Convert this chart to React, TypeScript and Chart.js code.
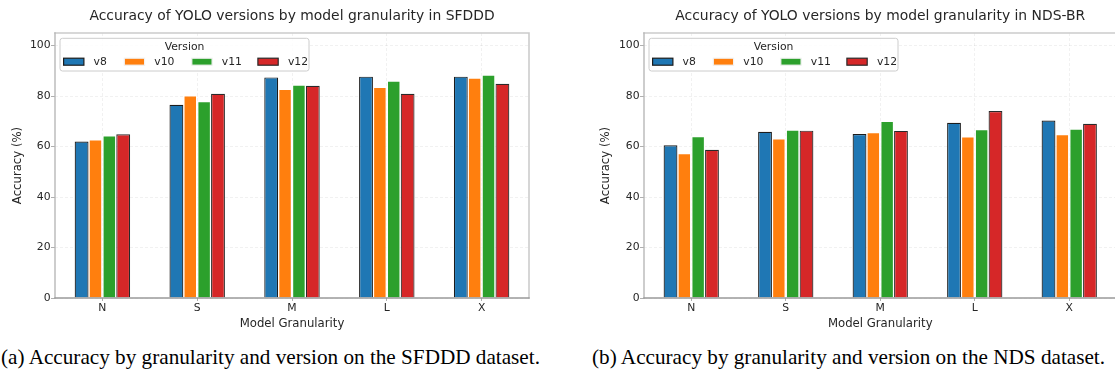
import React, { useEffect, useRef } from 'react';
import { Chart, registerables } from 'chart.js';
Chart.register(...registerables);

const categories = ['N', 'S', 'M', 'L', 'X'];
const versions = ['v8', 'v10', 'v11', 'v12'];
const versionColors = ['#1f77b4', '#ff7f0e', '#2ca02c', '#d62728'];
const versionEdges = ['#1c1c1c', '#ffffff', '#ffffff', '#2a2a2a'];

const sfdddV8 = [62.0, 76.6, 87.4, 87.7, 87.7];
const sfdddV10 = [62.9, 80.3, 82.9, 83.7, 87.3];
const sfdddV11 = [64.5, 78.0, 84.6, 86.2, 88.5];
const sfdddV12 = [64.9, 80.9, 84.1, 80.9, 84.9];

const ndsV8 = [60.5, 65.9, 65.0, 69.4, 70.3];
const ndsV10 = [57.4, 63.3, 65.8, 64.1, 65.0];
const ndsV11 = [64.2, 66.7, 70.2, 66.9, 67.1];
const ndsV12 = [58.7, 66.3, 66.2, 74.1, 69.0];

const yTickValues = [0, 20, 40, 60, 80, 100];
const yMax = 105;

const titleA = 'Accuracy of YOLO versions by model granularity in SFDDD';
const titleB = 'Accuracy of YOLO versions by model granularity in NDS-BR';
const xTitle = 'Model Granularity';
const yTitle = 'Accuracy (%)';
const legendTitle = 'Version';
const captionA = '(a) Accuracy by granularity and version on the SFDDD dataset.';
const captionB = '(b) Accuracy by granularity and version on the NDS dataset.';

const FONT = '"DejaVu Sans", sans-serif';
const TEXT = '#262626';

const legendSwatchOffsets = [3.6, 64.3, 131.8, 197.9];
const legendBoxWidth = 249;

const decorPlugin = {
  id: 'decor',
  afterDatasetsDraw(chart: any) {
    const { ctx, chartArea: a } = chart;
    ctx.save();
    ctx.lineCap = 'square';
    ctx.strokeStyle = '#cccccc';
    ctx.lineWidth = 1.6;
    ctx.beginPath();
    ctx.moveTo(a.left, a.top);
    ctx.lineTo(a.right, a.top);
    ctx.lineTo(a.right, a.bottom);
    ctx.stroke();
    ctx.strokeStyle = '#b8b8b8';
    ctx.lineWidth = 1.4;
    ctx.beginPath();
    ctx.moveTo(a.left, a.top);
    ctx.lineTo(a.left, a.bottom);
    ctx.stroke();
    ctx.strokeStyle = '#9a9a9a';
    ctx.beginPath();
    ctx.moveTo(a.left, a.bottom);
    ctx.lineTo(a.right, a.bottom);
    ctx.stroke();
    ctx.restore();
  },
  afterDraw(chart: any) {
    const { ctx, chartArea: a } = chart;
    const opts = chart.options.plugins.decor;
    ctx.save();
    // title
    ctx.font = `13.9px ${FONT}`;
    ctx.fillStyle = TEXT;
    ctx.textAlign = 'center';
    ctx.textBaseline = 'middle';
    ctx.fillText(opts.title, (a.left + a.right) / 2, 16.7);

    // legend
    ctx.font = `10.8px ${FONT}`;
    const bx = a.left + 5;
    const by = a.top + 5.3;
    const sw = 20.3, sh = 7, textPad = 9.7;
    const bw = legendBoxWidth;
    const bh = 32.7;
    ctx.beginPath();
    (ctx as any).roundRect(bx, by, bw, bh, 2.5);
    ctx.fillStyle = 'rgba(255,255,255,0.85)';
    ctx.fill();
    ctx.strokeStyle = '#cccccc';
    ctx.lineWidth = 1;
    ctx.stroke();
    ctx.fillStyle = TEXT;
    ctx.textAlign = 'center';
    ctx.textBaseline = 'middle';
    ctx.fillText(legendTitle, bx + 124.5, by + 8.6);
    const cy = by + 23.4;
    chart.data.datasets.forEach((ds: any, i: number) => {
      const x = bx + legendSwatchOffsets[i];
      ctx.fillStyle = ds.backgroundColor;
      ctx.fillRect(x, cy - sh / 2, sw, sh);
      ctx.strokeStyle = ds.borderColor === '#ffffff' ? '#f2f2f2' : ds.borderColor;
      ctx.lineWidth = 1.2;
      ctx.strokeRect(x, cy - sh / 2, sw, sh);
      ctx.fillStyle = TEXT;
      ctx.textAlign = 'left';
      ctx.fillText(ds.label, x + sw + textPad, cy);
    });
    ctx.restore();
  },
};

function makeConfig(title: string, series: number[][], padLeft: number, yWidth: number, padRight: number): any {
  return {
    type: 'bar',
    data: {
      labels: categories,
      datasets: versions.map((v, i) => ({
        label: v,
        data: series[i],
        backgroundColor: versionColors[i],
        borderColor: versionEdges[i],
        borderWidth: 1.2,
        barPercentage: 1.0,
        categoryPercentage: 0.585,
      })),
    },
    plugins: [decorPlugin],
    options: {
      responsive: false,
      maintainAspectRatio: false,
      devicePixelRatio: 1,
      animation: false,
      layout: { padding: { left: padLeft, right: padRight, top: 33, bottom: 0 } },
      plugins: {
        legend: { display: false },
        title: { display: false },
        tooltip: { enabled: false },
        decor: { title },
      },
      scales: {
        x: {
          offset: true,
          grid: {
            offset: false,
            color: 'rgba(0,0,0,0.07)',
            tickColor: '#9a9a9a',
            tickLength: 3,
            lineWidth: 0.8,
          },
          border: { display: false, dash: [3, 2] },
          ticks: { color: TEXT, font: { family: FONT, size: 10.8 }, padding: 0.5, maxRotation: 0 },
          title: {
            display: true,
            text: xTitle,
            color: TEXT,
            font: { family: FONT, size: 11.7, lineHeight: 1.2 },
            padding: { top: 0, bottom: 9 },
          },
          afterFit: (s: any) => { s.height = 42; },
        },
        y: {
          min: 0,
          max: yMax,
          grid: {
            color: 'rgba(0,0,0,0.07)',
            tickColor: '#9a9a9a',
            tickLength: 4,
            lineWidth: 0.8,
          },
          border: { display: false, dash: [3, 2] },
          ticks: { color: TEXT, font: { family: FONT, size: 10.8 }, padding: 0.5, stepSize: 20 },
          afterBuildTicks: (s: any) => {
            s.ticks = yTickValues.map((v) => ({ value: v }));
          },
          title: {
            display: true,
            text: yTitle,
            color: TEXT,
            font: { family: FONT, size: 11.7, lineHeight: 1.2 },
            padding: { top: 10.9, bottom: 0 },
          },
          afterFit: (s: any) => { s.width = yWidth; },
        },
      },
    },
  };
}

function ChartPanel(props: { cfg: () => any; left: number; width: number; height: number }) {
  const ref = useRef<HTMLCanvasElement>(null);
  useEffect(() => {
    const chart = new Chart(ref.current as HTMLCanvasElement, props.cfg());
    return () => chart.destroy();
  }, []);
  return (
    <canvas
      ref={ref}
      width={props.width}
      height={props.height}
      style={{ position: 'absolute', left: props.left, top: 0, width: props.width, height: props.height, display: 'block' }}
    />
  );
}

export default function App() {
  const captionStyle: React.CSSProperties = {
    position: 'absolute',
    top: 344,
    fontFamily: '"Liberation Serif", "Times New Roman", serif',
    fontSize: 21.2,
    lineHeight: '26px',
    color: '#000',
    whiteSpace: 'nowrap',
  };
  return (
    <div style={{ position: 'fixed', left: 0, top: 0, width: 1115, height: 372, overflow: 'hidden', background: '#fff' }}>
      <ChartPanel
        cfg={() => makeConfig(titleA, [sfdddV8, sfdddV10, sfdddV11, sfdddV12], 0, 55, 28)}
        left={0}
        width={557}
        height={340}
      />
      <ChartPanel
        cfg={() => makeConfig(titleB, [ndsV8, ndsV10, ndsV11, ndsV12], 31, 56, 20.5)}
        left={557}
        width={580}
        height={340}
      />
      <div style={{ ...captionStyle, left: 1 }}>{captionA}</div>
      <div style={{ ...captionStyle, left: 592 }}>{captionB}</div>
    </div>
  );
}
